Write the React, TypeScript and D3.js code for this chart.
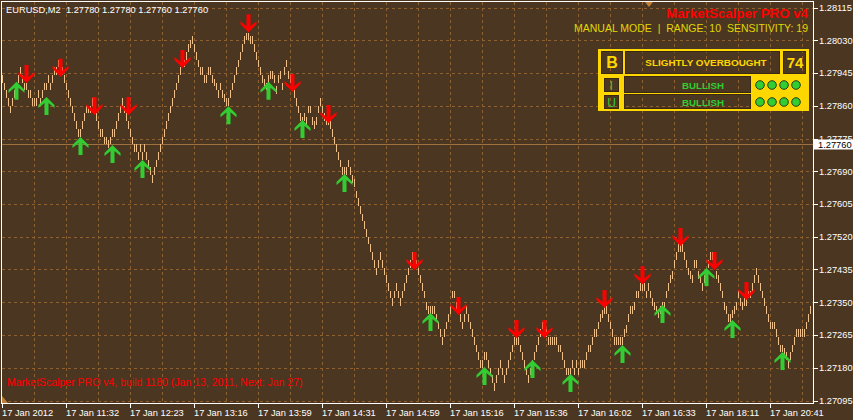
import { useEffect, useRef } from 'react';
import * as d3 from 'd3';

// right axis labels (top to bottom)
const priceTicks = ['1.28115', '1.28030', '1.27945', '1.27860', '1.27775', '1.27690', '1.27605',
    '1.27520', '1.27435', '1.27350', '1.27265', '1.27180', '1.27095'];

// bottom axis labels, one every 32 bars
const timeLabels = ['17 Jan 2012', '17 Jan 11:32', '17 Jan 12:23', '17 Jan 13:16', '17 Jan 13:59',
    '17 Jan 14:31', '17 Jan 14:59', '17 Jan 15:16', '17 Jan 15:36', '17 Jan 16:02', '17 Jan 16:33',
    '17 Jan 18:11', '17 Jan 20:41'];

// low of every range bar, left to right
const barLows = [
    1.2792, 1.2790, 1.2788, 1.2786, 1.2784, 1.2786, 1.2788, 1.2790, 1.2792, 1.2794,
    1.2792, 1.2790, 1.2790, 1.2788, 1.2788, 1.2786, 1.2786, 1.2786, 1.2788, 1.2786,
    1.2788, 1.2790, 1.2790, 1.2792, 1.2790, 1.2792, 1.2794, 1.2794, 1.2796, 1.2796,
    1.2794, 1.2792, 1.2790, 1.2788, 1.2786, 1.2784, 1.2782, 1.2780, 1.2778, 1.2778,
    1.2780, 1.2782, 1.2784, 1.2784, 1.2784, 1.2786, 1.2784, 1.2782, 1.2780, 1.2778,
    1.2778, 1.2776, 1.2776, 1.2775, 1.2776, 1.2778, 1.2778, 1.2780, 1.2782, 1.2784,
    1.2786,
    1.2784, 1.2782, 1.2780, 1.2778, 1.2776, 1.2774, 1.2774, 1.2772, 1.2774, 1.2772,
    1.2774, 1.2772, 1.2770, 1.2768, 1.2766, 1.2768, 1.2770, 1.2772, 1.2774, 1.2776,
    1.2778, 1.2780, 1.2782, 1.2784, 1.2786, 1.2788, 1.2790, 1.2792, 1.2794, 1.2796,
    1.2796, 1.2798, 1.2800, 1.2801, 1.2802,
    1.2800, 1.2798, 1.2796, 1.2794, 1.2794, 1.2792, 1.2792, 1.2794, 1.2794, 1.2792,
    1.2791, 1.2790, 1.2788, 1.2790, 1.2788, 1.2787, 1.2786, 1.2786, 1.2788, 1.2790,
    1.2792, 1.2794, 1.2796, 1.2798, 1.2800, 1.2802, 1.2803, 1.2803,
    1.2802, 1.2802, 1.2800, 1.2798, 1.2796, 1.2794, 1.2792, 1.2791, 1.2790, 1.2792,
    1.2793, 1.2793, 1.2792, 1.2789, 1.2792, 1.2793, 1.2790, 1.2794, 1.2796, 1.2793,
    1.2792, 1.2790, 1.2788,
    1.2786, 1.2784, 1.2782, 1.2781, 1.2782, 1.2781, 1.2784, 1.2784, 1.2781, 1.2780,
    1.2781, 1.2784, 1.2786, 1.2784, 1.2782, 1.2781, 1.2781, 1.2780, 1.2778, 1.2776,
    1.2774, 1.2772, 1.2770, 1.2768, 1.2768, 1.2768, 1.2770, 1.2768, 1.2766, 1.2765,
    1.2762, 1.2760, 1.2758, 1.2756, 1.2754, 1.2752, 1.2750, 1.2748, 1.2746, 1.2744,
    1.2742, 1.2744, 1.2746, 1.2744, 1.2742, 1.2740, 1.2738, 1.2736, 1.2734, 1.2736,
    1.2738, 1.2736, 1.2734, 1.2736, 1.2738, 1.2740, 1.2742, 1.2744, 1.2746, 1.2746,
    1.2744, 1.2742, 1.2740, 1.2738, 1.2736, 1.2733, 1.2732, 1.2732, 1.2732, 1.2732,
    1.2730, 1.2728, 1.2726, 1.2724, 1.2726, 1.2728, 1.2730, 1.2732, 1.2736, 1.2736,
    1.2733, 1.2732, 1.2730, 1.2728, 1.2730, 1.2732, 1.2730, 1.2728, 1.2726, 1.2724,
    1.2722, 1.2720, 1.2718, 1.2718, 1.2720, 1.2720, 1.2718, 1.2716, 1.2714, 1.2712,
    1.2714, 1.2716, 1.2718, 1.2716, 1.2714, 1.2716, 1.2718, 1.2720, 1.2722, 1.2724,
    1.2724, 1.2724, 1.2722, 1.2720, 1.2718, 1.2716, 1.2714, 1.2716, 1.2718, 1.2720,
    1.2722, 1.2724, 1.2726,
    1.2728, 1.2726, 1.2726, 1.2724, 1.2724, 1.2724, 1.2724, 1.2724, 1.2722, 1.2722,
    1.2720, 1.2718, 1.2716, 1.2716, 1.2716, 1.2718, 1.2716, 1.2718, 1.2716, 1.2718,
    1.2718, 1.2718, 1.2720, 1.2722, 1.2722, 1.2724, 1.2726, 1.2726, 1.2728, 1.2730,
    1.2731, 1.2732, 1.2732, 1.2730, 1.2728, 1.2726, 1.2724, 1.2724, 1.2724, 1.2724,
    1.2724, 1.2726, 1.2727, 1.2730, 1.2732, 1.2732, 1.2733, 1.2736, 1.2736, 1.2738,
    1.2738, 1.2738, 1.2736, 1.2738, 1.2736, 1.2734, 1.2733, 1.2732, 1.2731, 1.2732,
    1.2733, 1.2733, 1.2736, 1.2738, 1.2740, 1.2741, 1.2744, 1.2746, 1.2748, 1.2748,
    1.2748, 1.2746, 1.2744, 1.2742, 1.2741, 1.2740, 1.2744, 1.2744, 1.2741, 1.2740,
    1.2738, 1.2740, 1.2741, 1.2744, 1.2746, 1.2746, 1.2744, 1.2741, 1.2740, 1.2738,
    1.2736, 1.2733, 1.2732, 1.2730, 1.2730, 1.2731, 1.2732, 1.2733, 1.2736, 1.2734,
    1.2733, 1.2734, 1.2734, 1.2736, 1.2736, 1.2738, 1.2740, 1.2742, 1.2740, 1.2738,
    1.2736, 1.2734, 1.2732, 1.2730, 1.2728, 1.2728, 1.2728, 1.2726, 1.2724, 1.2722,
    1.2722, 1.2721, 1.2720, 1.2718, 1.2720, 1.2722, 1.2724, 1.2726, 1.2726, 1.2726,
    1.2726, 1.2726, 1.2728, 1.2730, 1.2732
];
const barRange = 0.0002;
const lastPrice = 1.2776;

// sell signals (red arrows): bar index and price at the arrow tip
const downArrowBars = [12, 29, 46, 63, 90, 123, 145, 163, 206, 228, 257, 271, 301, 320, 339, 356, 372];
const downArrowPrices = [1.27919, 1.27935, 1.27836, 1.27836, 1.27958, 1.28051, 1.27896, 1.27815, 1.27434,
    1.27317, 1.27257, 1.27257, 1.27335, 1.27397, 1.27496, 1.27434, 1.27356];

// buy signals (green arrows)
const upArrowBars = [7, 22, 39, 55, 70, 113, 133, 150, 171, 214, 241, 265, 284, 310, 330, 352, 365, 390];
const upArrowPrices = [1.27922, 1.27883, 1.27779, 1.27758, 1.27719, 1.27859, 1.27922, 1.27823, 1.27683,
    1.27322, 1.27182, 1.27200, 1.27164, 1.27239, 1.27343, 1.27439, 1.27304, 1.27221];

const headerText = 'EURUSD,M2  1.27780 1.27780 1.27760 1.27760';
const titleText = 'MarketScalper PRO v4';
const modeText = 'MANUAL MODE  |  RANGE: 10  SENSITIVITY: 19';
const buildText = 'MarketScalper PRO v4, build 1180 (Jan 13, 2011, Next: Jan 27)';
const biasLabel = 'SLIGHTLY OVERBOUGHT';
const biasValue = '74';
const trendRows = ['I', 'U'];
const trendText = ['BULLISH', 'BULLISH'];
const trendDots = [4, 4];

const BG = '#4b3621';
const GRID = '#8e602f';
const BAR = '#f0c08c';
const FONT = 'Liberation Sans, Arial, sans-serif';

const App = () => {
    const ref = useRef<SVGSVGElement>(null);

    useEffect(() => {
        document.body.style.margin = '0';
        const svg = d3.select(ref.current);
        svg.selectAll('*').remove();

        const left = 2, top = 1.5, right = 813.5, bottom = 403.5;

        const x = d3.scaleLinear().domain([0, 1]).range([2, 4]);
        const y = d3.scaleLinear()
            .domain([+priceTicks[priceTicks.length - 1], +priceTicks[0]])
            .range([400.5, 7.5]);

        svg.append('rect').attr('width', 853).attr('height', 420).attr('fill', BG);

        // grid
        const grid = svg.append('g')
            .attr('stroke', GRID)
            .attr('stroke-dasharray', '3,3')
            .attr('shape-rendering', 'crispEdges');
        grid.selectAll('.hg')
            .data(priceTicks)
            .enter().append('line')
            .attr('x1', left).attr('x2', right)
            .attr('y1', (d: string) => Math.round(y(+d)) + 0.5)
            .attr('y2', (d: string) => Math.round(y(+d)) + 0.5);
        grid.selectAll('.vg')
            .data(d3.range(1, 26))
            .enter().append('line')
            .attr('x1', (k: number) => x(16 * k) + 0.5)
            .attr('x2', (k: number) => x(16 * k) + 0.5)
            .attr('y1', top).attr('y2', bottom);

        // current price line
        svg.append('line')
            .attr('x1', left).attr('x2', right)
            .attr('y1', Math.round(y(lastPrice)) + 0.5)
            .attr('y2', Math.round(y(lastPrice)) + 0.5)
            .attr('stroke', '#a0703f')
            .attr('shape-rendering', 'crispEdges');

        // range bars
        svg.append('g')
            .attr('shape-rendering', 'crispEdges')
            .selectAll('rect')
            .data(barLows)
            .enter().append('rect')
            .attr('x', (d: number, i: number) => x(i))
            .attr('width', 1)
            .attr('y', (d: number) => y(d + barRange))
            .attr('height', (d: number) => y(d) - y(d + barRange))
            .attr('fill', BAR);

        // signal arrows
        const downPath = 'M0,0 L8,-8 L8,-11 L2,-6 L2,-18 L-2,-18 L-2,-6 L-8,-11 L-8,-8 Z';
        const upPath = 'M0,0 L8,8 L8,11 L2,6 L2,18 L-2,18 L-2,6 L-8,11 L-8,8 Z';
        svg.append('g').selectAll('path')
            .data(downArrowBars)
            .enter().append('path')
            .attr('d', downPath)
            .attr('transform', (b: number, i: number) =>
                'translate(' + (x(b) + 0.5) + ',' + y(downArrowPrices[i]) + ')')
            .attr('fill', '#ff0000');
        svg.append('g').selectAll('path')
            .data(upArrowBars)
            .enter().append('path')
            .attr('d', upPath)
            .attr('transform', (b: number, i: number) =>
                'translate(' + (x(b) + 0.5) + ',' + y(upArrowPrices[i]) + ')')
            .attr('fill', '#32cd32');

        // frame
        svg.append('path')
            .attr('d', 'M1.5,' + bottom + ' L1.5,' + top + ' L' + right + ',' + top + ' L' + right + ',' + bottom + ' Z')
            .attr('fill', 'none')
            .attr('stroke', '#ffffff')
            .attr('shape-rendering', 'crispEdges');

        // small shift markers
        svg.append('path').attr('d', 'M645,2 L653,2 L649,7 Z').attr('fill', '#c0803c');
        svg.append('path').attr('d', 'M2,396 L2,403 L8,403 Z').attr('fill', '#c0803c');

        // price axis
        const yAxis = svg.append('g').attr('font-family', FONT).attr('font-size', 9.3).attr('fill', '#ffffff');
        yAxis.selectAll('line')
            .data(priceTicks)
            .enter().append('line')
            .attr('x1', right).attr('x2', right + 4)
            .attr('y1', (d: string) => Math.round(y(+d)) + 0.5)
            .attr('y2', (d: string) => Math.round(y(+d)) + 0.5)
            .attr('stroke', '#ffffff')
            .attr('shape-rendering', 'crispEdges');
        yAxis.selectAll('text')
            .data(priceTicks)
            .enter().append('text')
            .attr('x', 819)
            .attr('y', (d: string) => y(+d) + 3.4)
            .text((d: string) => d);

        // last price tag (covers the lower half of the 1.27775 label, as in MT4)
        svg.append('rect')
            .attr('x', 814).attr('y', Math.round(y(lastPrice)) - 4.5)
            .attr('width', 39).attr('height', 10)
            .attr('fill', '#ffffff');
        svg.append('text')
            .attr('x', 818).attr('y', y(lastPrice) + 3.6)
            .attr('font-family', FONT).attr('font-size', 9.3)
            .attr('fill', '#000000')
            .text(lastPrice.toFixed(5));

        // time axis
        const xAxis = svg.append('g').attr('font-family', FONT).attr('font-size', 9.3).attr('fill', '#ffffff');
        xAxis.selectAll('line')
            .data(timeLabels)
            .enter().append('line')
            .attr('x1', (d: string, i: number) => x(32 * i) + 0.5)
            .attr('x2', (d: string, i: number) => x(32 * i) + 0.5)
            .attr('y1', bottom).attr('y2', bottom + 4)
            .attr('stroke', '#ffffff')
            .attr('shape-rendering', 'crispEdges');
        xAxis.selectAll('text')
            .data(timeLabels)
            .enter().append('text')
            .attr('x', (d: string, i: number) => x(32 * i))
            .attr('y', 416)
            .text((d: string) => d);

        // texts on chart
        svg.append('text').attr('x', 6).attr('y', 13)
            .attr('font-family', FONT).attr('font-size', 9.3).attr('fill', '#ffffff')
            .style('white-space', 'pre')
            .text(headerText);
        svg.append('text').attr('x', 808).attr('y', 17.5)
            .attr('text-anchor', 'end')
            .attr('font-family', FONT).attr('font-size', 13.3).attr('font-weight', 'bold')
            .attr('fill', '#ff0000')
            .text(titleText);
        svg.append('text').attr('x', 808).attr('y', 31.7)
            .attr('text-anchor', 'end')
            .attr('font-family', FONT).attr('font-size', 10.5).attr('fill', '#e0d800')
            .style('white-space', 'pre')
            .text(modeText);
        svg.append('text').attr('x', 7).attr('y', 385.5)
            .attr('font-family', FONT).attr('font-size', 10.5).attr('fill', '#ff0000')
            .text(buildText);

        // info panel
        const gold = '#ffd700';
        const green = '#32cd32';
        const cells = [
            [601, 51, 22, 23], [625, 51, 155, 23], [783, 51, 23, 23],
            [604, 78, 15, 14], [624, 76, 127, 17],
            [604, 95, 15, 14], [624, 94, 127, 15]
        ];
        let framePath = 'M598,49 H809 V111 H598 Z';
        cells.forEach((c) => {
            framePath += ' M' + c[0] + ',' + c[1] + ' h' + c[2] + ' v' + c[3] + ' h' + (-c[2]) + ' Z';
        });
        const panel = svg.append('g').attr('font-family', FONT);
        panel.append('path').attr('d', framePath).attr('fill', gold).attr('fill-rule', 'evenodd');
        panel.selectAll('rect.cell')
            .data(cells)
            .enter().append('rect')
            .attr('x', (c: number[]) => c[0] + 0.5).attr('y', (c: number[]) => c[1] + 0.5)
            .attr('width', (c: number[]) => c[2] - 1).attr('height', (c: number[]) => c[3] - 1)
            .attr('fill', 'none').attr('stroke', '#3a2812')
            .attr('shape-rendering', 'crispEdges');

        panel.append('text').attr('x', 612).attr('y', 68)
            .attr('text-anchor', 'middle').attr('font-size', 16).attr('font-weight', 'bold')
            .attr('fill', gold).text('B');
        panel.append('text').attr('x', 706).attr('y', 65.5)
            .attr('text-anchor', 'middle').attr('font-size', 9.9).attr('font-weight', 'bold')
            .attr('fill', gold)
            .text(biasLabel);
        panel.append('text').attr('x', 795).attr('y', 68)
            .attr('text-anchor', 'middle').attr('font-size', 15).attr('font-weight', 'bold')
            .attr('fill', gold).text(biasValue);

        const rowY = [85, 102];
        trendRows.forEach((r, k) => {
            panel.append('text').attr('x', 611.5).attr('y', rowY[k] + 4.5)
                .attr('text-anchor', 'middle').attr('font-size', 12).attr('fill', green)
                .text(r);
            panel.append('text').attr('x', 703).attr('y', rowY[k] + 3.5)
                .attr('text-anchor', 'middle').attr('font-size', 9.7).attr('font-weight', 'bold')
                .attr('fill', green)
                .text(trendText[k]);
            panel.selectAll('circle.r' + k)
                .data(d3.range(trendDots[k]))
                .enter().append('circle')
                .attr('cx', (j: number) => 760 + j * 12)
                .attr('cy', rowY[k])
                .attr('r', 4.3)
                .attr('fill', green)
                .attr('stroke', '#2a3a10');
        });
    }, []);

    return <svg ref={ref} width={853} height={420} style={{ display: 'block' }} />;
};

export default App;
